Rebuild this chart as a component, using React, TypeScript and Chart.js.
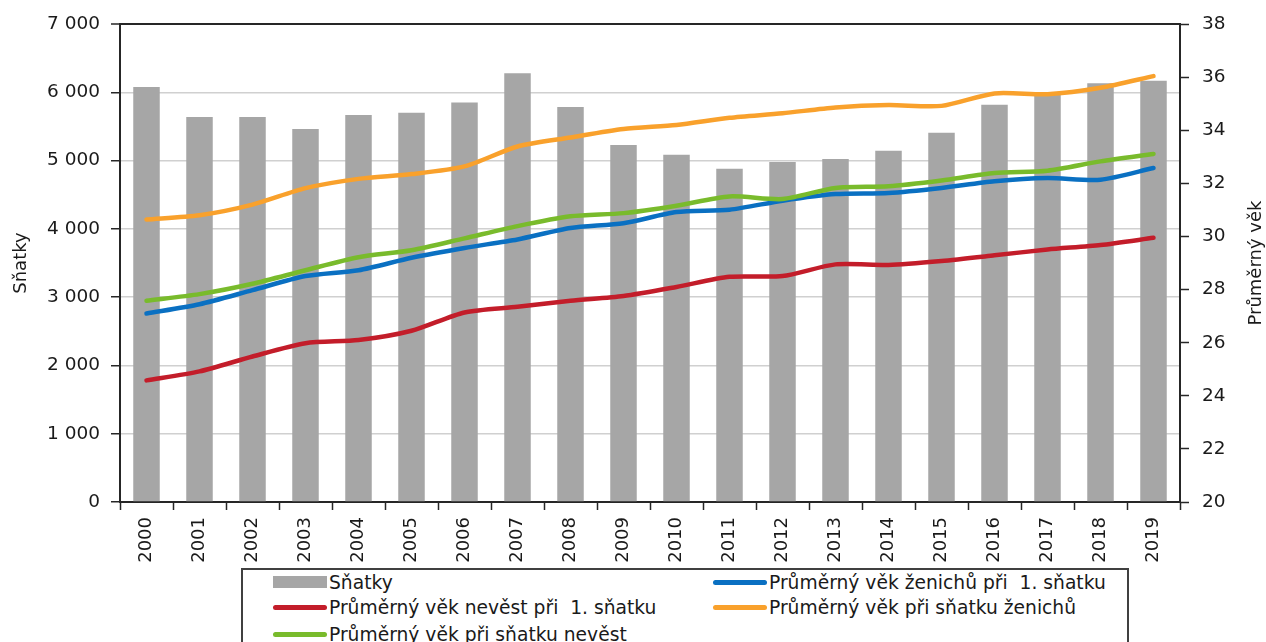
import React, { useEffect, useRef } from "react";
import { Chart, registerables } from "chart.js";

Chart.register(...registerables);

const years = ["2000","2001","2002","2003","2004","2005","2006","2007","2008","2009","2010","2011","2012","2013","2014","2015","2016","2017","2018","2019"];
const marriages = [6080, 5640, 5640, 5465, 5670, 5700, 5850, 6280, 5785, 5230, 5085, 4880, 4980, 5025, 5145, 5410, 5820, 5960, 6135, 6170];
const groomFirst = [27.1, 27.45, 27.98, 28.51, 28.73, 29.2, 29.57, 29.89, 30.32, 30.5, 30.92, 31.01, 31.35, 31.6, 31.64, 31.83, 32.08, 32.2, 32.14, 32.58];
const brideFirst = [24.58, 24.92, 25.48, 25.98, 26.1, 26.45, 27.14, 27.35, 27.58, 27.76, 28.1, 28.48, 28.51, 28.95, 28.93, 29.08, 29.29, 29.51, 29.68, 29.95];
const groomAll = [30.64, 30.8, 31.2, 31.82, 32.17, 32.35, 32.64, 33.39, 33.73, 34.05, 34.2, 34.47, 34.64, 34.86, 34.95, 34.92, 35.39, 35.36, 35.6, 36.04];
const brideAll = [27.58, 27.83, 28.22, 28.73, 29.22, 29.48, 29.93, 30.39, 30.76, 30.88, 31.16, 31.51, 31.41, 31.83, 31.89, 32.11, 32.39, 32.48, 32.83, 33.11];

const labelBars = "Sňatky";
const labelGroomFirst = "Průměrný věk ženichů při  1. sňatku";
const labelBrideFirst = "Průměrný věk nevěst při  1. sňatku";
const labelGroomAll = "Průměrný věk při sňatku ženichů";
const labelBrideAll = "Průměrný věk při sňatku nevěst";
const leftTitle = "Sňatky";
const rightTitle = "Průměrný věk";

const C_BAR = "#a6a6a6";
const C_BLUE = "#0a70c2";
const C_RED = "#c31d2a";
const C_ORANGE = "#f9a12c";
const C_GREEN = "#79bb2c";
const FONT = "'DejaVu Sans', sans-serif";
const TEXT = "#1a1a1a";
const AXIS = "#262626";

function fmt(v: number) {
  if (v >= 1000) {
    const th = Math.floor(v / 1000);
    const rest = String(v % 1000).padStart(3, "0");
    return th + " " + rest;
  }
  return String(v);
}

const rightTitlePlugin = {
  id: "rightTitle",
  afterDraw(chart: any) {
    const ctx = chart.ctx;
    const area = chart.chartArea;
    ctx.save();
    ctx.translate(1256, (area.top + area.bottom) / 2);
    ctx.rotate(-Math.PI / 2);
    ctx.font = "18px " + FONT;
    ctx.fillStyle = TEXT;
    ctx.textAlign = "center";
    ctx.textBaseline = "middle";
    ctx.fillText(rightTitle, 0, 0);
    ctx.restore();
  },
};

export default function App() {
  const ref = useRef<HTMLCanvasElement>(null);
  useEffect(() => {
    if (!ref.current) return;
    const lineDs = (label: string, data: number[], color: string, order: number) => ({
      type: "line" as const,
      label,
      data,
      borderColor: color,
      backgroundColor: color,
      borderWidth: 4.5,
      pointRadius: 0,
      tension: 0.25,
      yAxisID: "y1",
      order,
      borderCapStyle: "round" as const,
    });
    const chart = new Chart(ref.current, {
      type: "bar",
      data: {
        labels: years,
        datasets: [
          {
            type: "bar",
            label: labelBars,
            data: marriages,
            backgroundColor: C_BAR,
            borderWidth: 0,
            yAxisID: "y",
            categoryPercentage: 1,
            barPercentage: 0.5,
            order: 10,
          },
          lineDs(labelGroomFirst, groomFirst, C_BLUE, 4),
          lineDs(labelBrideFirst, brideFirst, C_RED, 3),
          lineDs(labelGroomAll, groomAll, C_ORANGE, 2),
          lineDs(labelBrideAll, brideAll, C_GREEN, 1),
        ] as any,
      },
      options: {
        animation: false,
        responsive: false,
        layout: { padding: { top: 22, right: 0, left: 0, bottom: 0 } },
        plugins: { legend: { display: false }, tooltip: { enabled: false } },
        scales: {
          x: {
            offset: true,
            grid: { offset: true, drawOnChartArea: false, tickLength: 8, tickColor: AXIS, tickWidth: 1.5 },
            border: { color: AXIS, width: 2 },
            ticks: { minRotation: 90, maxRotation: 90, padding: 7, color: TEXT, font: { family: FONT, size: 18 } },
            afterFit: (s: any) => { s.height = 140; },
          },
          y: {
            position: "left",
            min: 0,
            max: 7000,
            ticks: { stepSize: 1000, padding: 11, color: TEXT, font: { family: FONT, size: 18.5 }, callback: (v: any) => fmt(Number(v)) },
            grid: {
              color: (c: any) => (c.tick && c.tick.value === 7000 ? AXIS : "#d0d0d0"),
              lineWidth: (c: any) => (c.tick && c.tick.value === 7000 ? 2 : 1.5),
              tickColor: AXIS,
              tickLength: 9,
              tickWidth: 1.5,
            },
            border: { color: AXIS, width: 2 },
            title: { display: true, text: leftTitle, color: TEXT, font: { family: FONT, size: 18 }, padding: { top: 11, bottom: 0 } },
            afterFit: (s: any) => { s.width = 120; },
          },
          y1: {
            position: "right",
            min: 20,
            max: 38,
            ticks: { stepSize: 2, padding: 13, color: TEXT, font: { family: FONT, size: 18.5 } },
            grid: { drawOnChartArea: false, tickColor: AXIS, tickLength: 9, tickWidth: 1.5 },
            border: { color: AXIS, width: 2 },
            afterFit: (s: any) => { s.width = 86; },
          },
        },
      } as any,
      plugins: [rightTitlePlugin],
    });
    return () => chart.destroy();
  }, []);

  const itemStyle = (left: number, top: number): React.CSSProperties => ({
    position: "absolute",
    left,
    top: top - 12,
    height: 24,
    display: "flex",
    alignItems: "center",
    whiteSpace: "pre",
    font: "18.7px " + FONT,
    color: TEXT,
  });
  const lineSwatch = (color: string): React.CSSProperties => ({
    width: 54,
    height: 5,
    borderRadius: 3,
    background: color,
    marginRight: 2,
  });
  const barSwatch: React.CSSProperties = { width: 54, height: 12, background: C_BAR, marginRight: 2 };

  return (
    <div style={{ position: "fixed", left: 0, top: 0, width: 1266, height: 642, overflow: "hidden", background: "#fff" }}>
      <canvas ref={ref} width={1266} height={642} style={{ display: "block" }} />
      <div style={{ position: "absolute", left: 241, top: 568, width: 888, height: 100, border: "2px solid #404040", background: "#fff", boxSizing: "border-box" }} />
      <div style={itemStyle(273, 582)}><span style={barSwatch} />{labelBars}</div>
      <div style={itemStyle(713, 582)}><span style={lineSwatch(C_BLUE)} />{labelGroomFirst}</div>
      <div style={itemStyle(273, 607)}><span style={lineSwatch(C_RED)} />{labelBrideFirst}</div>
      <div style={itemStyle(713, 607)}><span style={lineSwatch(C_ORANGE)} />{labelGroomAll}</div>
      <div style={itemStyle(273, 634)}><span style={lineSwatch(C_GREEN)} />{labelBrideAll}</div>
    </div>
  );
}
